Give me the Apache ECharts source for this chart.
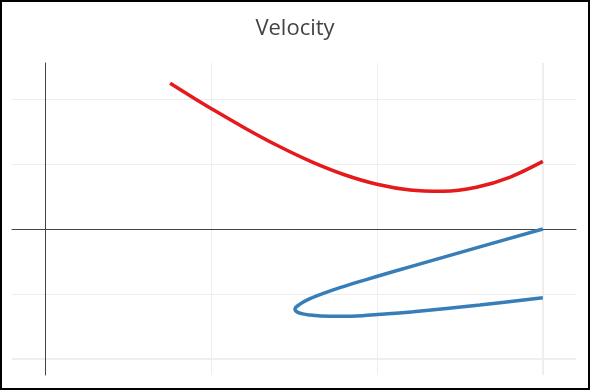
<!DOCTYPE html>
<html>
<head>
<meta charset="utf-8">
<script src="https://cdn.jsdelivr.net/npm/echarts@6/dist/echarts.min.js"></script>
<style>
  html, body { margin: 0; padding: 0; background: #fff; }
  #wrap { position: relative; width: 590px; height: 390px; }
  #chart { width: 590px; height: 390px; }
  #frame { position: absolute; left: 0; top: 0; width: 590px; height: 390px; box-sizing: border-box; border: 2px solid #000; pointer-events: none; }
</style>
</head>
<body>
<div id="wrap"><div id="chart"></div><div id="frame"></div></div>
<script>
const titleText = 'Velocity';

// Red curve (x, y)
const redX = [0.753, 0.9, 1.0, 1.2, 1.4, 1.6, 1.8, 2.0, 2.2, 2.4, 2.6, 2.8, 3.0];
const redY = [2.242, 2.009, 1.855, 1.559, 1.284, 1.041, 0.839, 0.689, 0.600, 0.581, 0.643, 0.796, 1.040];

// Blue curve (x, y)
const blueX = [3.0, 2.620, 2.219, 2.003, 1.878, 1.777, 1.677, 1.596, 1.536, 1.506, 1.526, 1.596, 1.717, 1.878, 2.003, 2.219, 2.620, 3.0];
const blueY = [0.0, -0.274, -0.567, -0.727, -0.822, -0.903, -0.991, -1.072, -1.156, -1.231, -1.288, -1.323, -1.343, -1.338, -1.315, -1.272, -1.169, -1.057];

// Grid line positions
const xGridValues = [1, 2, 3];
const yGridValues = [-2, -1, 1, 2];

const xRange = [-0.2, 3.2];
const yRange = [-2.246, 2.554];

const zip = (xs, ys) => xs.map((x, i) => [x, ys[i]]);

const gridMarks = [];
xGridValues.forEach(v => gridMarks.push({ xAxis: v, lineStyle: { width: v === 3 ? 2 : 1 } }));
yGridValues.forEach(v => gridMarks.push({ yAxis: v, lineStyle: { width: v === -2 ? 2 : 1 } }));

const chart = echarts.init(document.getElementById('chart'), null, { renderer: 'canvas' });
chart.setOption({
  animation: false,
  backgroundColor: '#fff',
  title: {
    text: titleText,
    left: 'center',
    top: 13,
    textStyle: { fontFamily: 'Open Sans', fontSize: 22, fontWeight: 'normal', color: '#444' }
  },
  grid: { left: 12, right: 14, top: 63, bottom: 15, containLabel: false },
  xAxis: {
    type: 'value', min: xRange[0], max: xRange[1], z: 1,
    axisLine: { show: true, onZero: true, lineStyle: { color: '#444', width: 1 } },
    axisTick: { show: false }, axisLabel: { show: false }, splitLine: { show: false }
  },
  yAxis: {
    type: 'value', min: yRange[0], max: yRange[1], z: 1,
    axisLine: { show: true, onZero: true, lineStyle: { color: '#444', width: 1 } },
    axisTick: { show: false }, axisLabel: { show: false }, splitLine: { show: false }
  },
  series: [
    {
      type: 'line', data: [], z: 0, silent: true,
      markLine: {
        z: 0, silent: true, symbol: 'none',
        label: { show: false },
        emphasis: { disabled: true },
        lineStyle: { color: '#eeeeee', type: 'solid', width: 1 },
        data: gridMarks
      }
    },
    {
      name: 'red', type: 'line', data: zip(redX, redY), smooth: 0.35, showSymbol: false, z: 2,
      lineStyle: { color: '#e41a1c', width: 3.5 }
    },
    {
      name: 'blue', type: 'line', data: zip(blueX, blueY), smooth: 0.35, showSymbol: false, z: 2,
      lineStyle: { color: '#377eb8', width: 3.5 }
    }
  ]
});
</script>
</body>
</html>
